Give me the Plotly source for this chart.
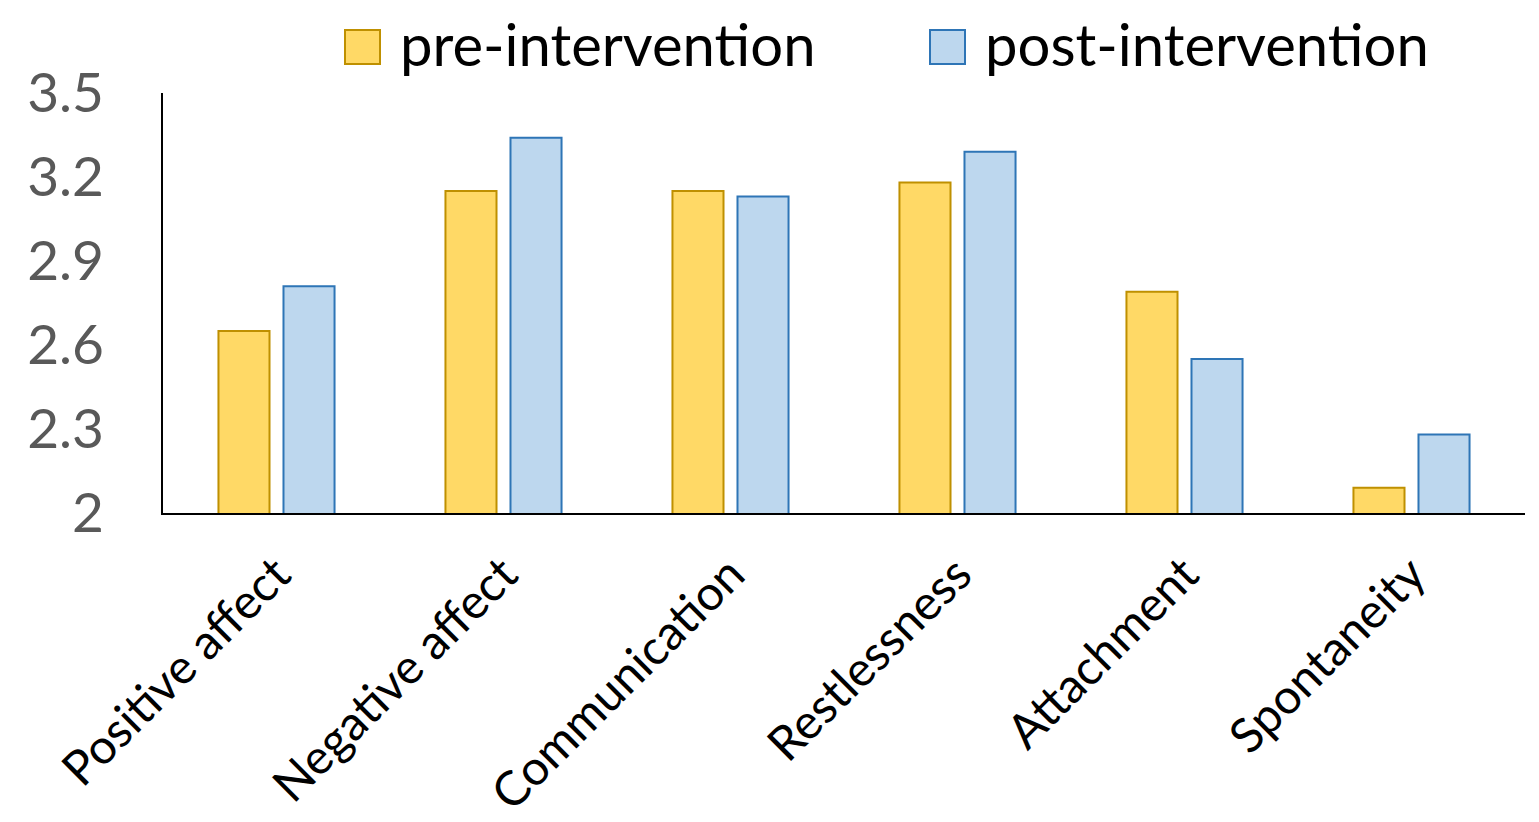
import plotly.graph_objects as go

# Mean scores per domain, before and after the intervention
categories = ["Positive affect", "Negative affect", "Communication",
              "Restlessness", "Attachment", "Spontaneity"]
pre_values = [2.65, 3.15, 3.15, 3.18, 2.79, 2.09]
post_values = [2.81, 3.34, 3.13, 3.29, 2.55, 2.28]
series_names = ["pre-intervention", "post-intervention"]
y_ticks = [2, 2.3, 2.6, 2.9, 3.2, 3.5]

FONT = "Lato, 'Open Sans', sans-serif"
W, H = 1539, 822
M_L, M_R, M_T, M_B = 163, 14, 93, 309
PW, PH = W - M_L - M_R, H - M_T - M_B

styles = [
    dict(fill="#FFD966", edge="#BF9000"),
    dict(fill="#BDD7EE", edge="#2E75B6"),
]

fig = go.Figure()
for name, vals, st in zip(series_names, [pre_values, post_values], styles):
    fig.add_trace(go.Bar(
        x=categories, y=vals, name=name,
        marker=dict(color=st["fill"], line=dict(color=st["edge"], width=2)),
        showlegend=False,
    ))

# Legend drawn as large swatches with text above the plot
def px_x(p):
    return (p - M_L) / PW

def px_y(p):
    return (H - M_B - p) / PH

legend_pos = [(345, 398), (930, 983)]
for (box_x, text_x), name, st in zip(legend_pos, series_names, styles):
    fig.add_shape(type="rect", xref="paper", yref="paper",
                  x0=px_x(box_x), x1=px_x(box_x + 35),
                  y0=px_y(64), y1=px_y(30),
                  fillcolor=st["fill"], line=dict(color=st["edge"], width=2))
    fig.add_annotation(xref="paper", yref="paper", x=px_x(text_x), y=px_y(44),
                       xanchor="left", yanchor="middle", showarrow=False,
                       text=name, font=dict(family=FONT, size=58, color="#000000"))

fig.update_layout(
    width=W, height=H,
    margin=dict(l=M_L, r=M_R, t=M_T, b=M_B),
    paper_bgcolor="white", plot_bgcolor="white",
    barmode="group", bargap=0.427, bargroupgap=0.215,
    font=dict(family=FONT),
)
fig.update_xaxes(
    automargin=False,
    showline=True, linecolor="#000000", linewidth=2,
    showgrid=False, ticks="", tickangle=-45,
    ticklabelstandoff=12,
    tickfont=dict(family=FONT, size=48, color="#000000"),
)
fig.update_yaxes(
    automargin=False,
    range=[2, 3.5], tickvals=y_ticks, ticktext=[f"{v:g}" for v in y_ticks],
    showline=True, linecolor="#000000", linewidth=2,
    showgrid=False, zeroline=False, ticks="",
    ticklabelstandoff=46,
    tickfont=dict(family=FONT, size=55, color="#595959"),
)

fig.write_html("out.html")
